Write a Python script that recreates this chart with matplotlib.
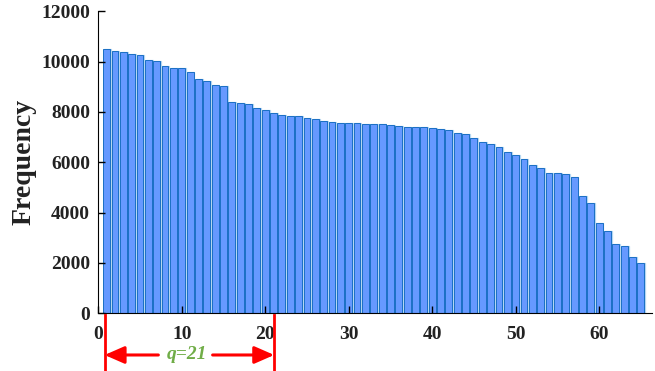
import numpy as np
import matplotlib.pyplot as plt

# Frekvens per rang (1..65)
ranks = np.arange(1, 66)
freq = [10510, 10430, 10390, 10310, 10270, 10050, 10010, 9840, 9760, 9760,
        9570, 9320, 9250, 9080, 9040, 8400, 8360, 8330, 8150, 8080,
        7950, 7880, 7830, 7830, 7760, 7710, 7640, 7590, 7580, 7560,
        7560, 7520, 7510, 7510, 7480, 7460, 7420, 7420, 7390, 7360,
        7310, 7270, 7150, 7110, 6980, 6820, 6720, 6620, 6410, 6300,
        6130, 5900, 5770, 5570, 5560, 5530, 5410, 4650, 4400, 3580,
        3260, 2740, 2670, 2220, 1980]
x_ticks = [0, 10, 20, 30, 40, 50, 60]
y_ticks = [0, 2000, 4000, 6000, 8000, 10000, 12000]
q_start = 0.76
q_end = 21.08
q_label = 'q=21'

plt.rcParams['font.family'] = ['Liberation Serif', 'DejaVu Serif']
txt_color = '#222222'

fig = plt.figure(figsize=(6.55, 3.71), dpi=100)
ax = fig.add_axes([0.150, 0.1555, 0.845, 0.814])

# skugga/ljus kant bakom staplarna
ax.bar(ranks + 0.1, freq, width=0.84, color='#4f93d6', edgecolor='#b4d6f0', linewidth=0.9)
ax.bar(ranks, freq, width=0.82, color='#6699ff', edgecolor='#1a6fc4', linewidth=0.7)

ax.set_xlim(0, 66.3)
ax.set_ylim(0, 12000)
ax.set_xticks(x_ticks)
ax.set_yticks(y_ticks)
ax.tick_params(direction='in', length=5, width=1, colors='black', labelcolor=txt_color,
               labelsize=14)
ax.tick_params(axis='x', pad=9)
ax.tick_params(axis='y', pad=6)
for lab in ax.get_xticklabels() + ax.get_yticklabels():
    lab.set_fontweight('bold')
ax.spines['top'].set_visible(False)
ax.spines['right'].set_visible(False)
ax.set_ylabel('Frequency', fontsize=20, fontweight='bold', color=txt_color, labelpad=3)

# markering av q under x-axeln
tr = ax.get_xaxis_transform()
for xv in [q_start, q_end]:
    ax.plot([xv, xv], [-0.005, -0.19], transform=tr, color='red', lw=2, clip_on=False)
y_arr = -0.138
arrow = dict(arrowstyle='-|>,head_length=0.8,head_width=0.35', color='red', lw=2.2,
             mutation_scale=15, shrinkA=0, shrinkB=0)
ax.annotate('', xy=(q_start, y_arr), xytext=(7.2, y_arr), xycoords=tr, textcoords=tr,
            arrowprops=arrow, annotation_clip=False)
ax.annotate('', xy=(q_end, y_arr), xytext=(13.7, y_arr), xycoords=tr, textcoords=tr,
            arrowprops=arrow, annotation_clip=False)
ax.text(10.6, y_arr, q_label, transform=tr, color='#70ad47', fontsize=14,
        fontweight='bold', fontstyle='italic', ha='center', va='center')

fig.savefig('out.png', dpi=100)
